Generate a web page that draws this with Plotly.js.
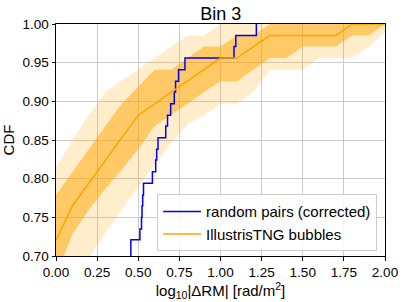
<!DOCTYPE html>
<html>
<head>
<meta charset="utf-8">
<script src="https://cdn.plot.ly/plotly-3.0.1.min.js"></script>
<style>html,body{margin:0;padding:0;background:#fff;}#chart{width:405px;height:302px;}</style>
</head>
<body>
<div id="chart"></div>
<script>
// Grid of log10|ΔRM| values for the simulated (IllustrisTNG) CDF curves
const gridX = [0.0,0.1,0.2,0.3,0.4,0.5,0.6,0.7,0.8,0.9,1.0,1.1,1.2,1.3,1.4,1.5,1.6,1.7,1.8,1.9,2.0];
const tngMedian = [0.720,0.765,0.794,0.824,0.853,0.882,0.897,0.912,0.926,0.941,0.956,0.956,0.971,0.985,0.985,0.985,0.985,0.985,1.000,1.000,1.000];
const tngLo1 = [0.675,0.728,0.760,0.787,0.812,0.838,0.868,0.882,0.897,0.912,0.926,0.926,0.941,0.956,0.956,0.971,0.971,0.971,0.985,0.985,1.000];
const tngHi1 = [0.779,0.809,0.838,0.868,0.897,0.919,0.941,0.941,0.956,0.971,0.971,0.985,0.985,1.000,1.000,1.000,1.000,1.000,1.000,1.000,1.000];
const tngLo2 = [0.630,0.665,0.697,0.730,0.760,0.790,0.818,0.846,0.870,0.882,0.897,0.897,0.912,0.941,0.941,0.941,0.956,0.956,0.956,0.970,0.990];
const tngHi2 = [0.815,0.850,0.882,0.912,0.927,0.941,0.956,0.971,0.985,0.985,1.000,1.000,1.000,1.000,1.000,1.000,1.000,1.000,1.000,1.000,1.000];

// Observed random pairs (corrected): empirical CDF steps
const pairsX = [0.380,0.455,0.510,0.520,0.523,0.527,0.532,0.586,0.606,0.612,0.620,0.667,0.678,0.697,0.719,0.727,0.745,0.784,1.082,1.093,1.218];
const pairsY = [0.691,0.721,0.735,0.750,0.765,0.779,0.794,0.809,0.824,0.838,0.853,0.868,0.882,0.897,0.912,0.926,0.941,0.956,0.971,0.985,1.000];

const seriesNames = ['random pairs (corrected)', 'IllustrisTNG bubbles'];
const xTicks = [0,0.25,0.5,0.75,1.0,1.25,1.5,1.75,2.0];
const yTicks = [0.70,0.75,0.80,0.85,0.90,0.95,1.00];

const ORANGE = '#FFA500';
const font = 'Liberation Sans, Arial, Helvetica, sans-serif';

const traces = [
  {x: gridX, y: tngLo2, mode: 'lines', line: {width: 0, color: ORANGE}, showlegend: false, hoverinfo: 'skip'},
  {x: gridX, y: tngHi2, mode: 'lines', line: {width: 0, color: ORANGE}, fill: 'tonexty', fillcolor: 'rgba(255,165,0,0.2)', showlegend: false, hoverinfo: 'skip'},
  {x: gridX, y: tngLo1, mode: 'lines', line: {width: 0, color: ORANGE}, showlegend: false, hoverinfo: 'skip'},
  {x: gridX, y: tngHi1, mode: 'lines', line: {width: 0, color: ORANGE}, fill: 'tonexty', fillcolor: 'rgba(255,165,0,0.5)', showlegend: false, hoverinfo: 'skip'},
  {x: pairsX, y: pairsY, mode: 'lines', line: {color: '#0000FF', width: 1.5, shape: 'hv'}, name: seriesNames[0]},
  {x: gridX, y: tngMedian, mode: 'lines', line: {color: ORANGE, width: 1.5}, name: seriesNames[1]}
];

const axisCommon = {
  showline: true, mirror: true, linecolor: '#000', linewidth: 1,
  ticks: 'outside', ticklen: 3.5, tickwidth: 1, tickcolor: '#000',
  showgrid: true, gridcolor: '#cbcbcb', gridwidth: 1, zeroline: false,
  tickfont: {family: font, size: 13.5, color: '#000'}
};

const layout = {
  width: 405, height: 302,
  margin: {l: 56, r: 19.5, t: 24, b: 46, pad: 0},
  paper_bgcolor: '#fff', plot_bgcolor: '#fff',
  font: {family: font, color: '#000'},
  title: {text: 'Bin 3', font: {family: font, size: 18, color: '#000'}, x: 0.545, xanchor: 'center', y: 0.955, yanchor: 'middle'},
  xaxis: Object.assign({}, axisCommon, {
    range: [0, 2], tickvals: xTicks, ticktext: xTicks.map(v => v.toFixed(2)),
    title: {text: 'log<sub>10</sub>|ΔRM| [rad/m<sup>2</sup>]', font: {family: font, size: 15, color: '#000'}, standoff: 0}
  }),
  yaxis: Object.assign({}, axisCommon, {
    range: [0.7, 1.0], tickvals: yTicks, ticktext: yTicks.map(v => v.toFixed(2)),
    title: {text: 'CDF', font: {family: font, size: 15, color: '#000'}, standoff: 4}
  }),
  legend: {
    x: 0.976, y: 0.02, xanchor: 'right', yanchor: 'bottom',
    traceorder: 'normal', itemwidth: 38,
    bgcolor: 'rgba(255,255,255,0.85)', bordercolor: '#cccccc', borderwidth: 1,
    font: {family: font, size: 15, color: '#000'}, tracegroupgap: 0
  },
  showlegend: true
};

Plotly.newPlot('chart', traces, layout, {displayModeBar: false, staticPlot: true});
</script>
</body>
</html>
